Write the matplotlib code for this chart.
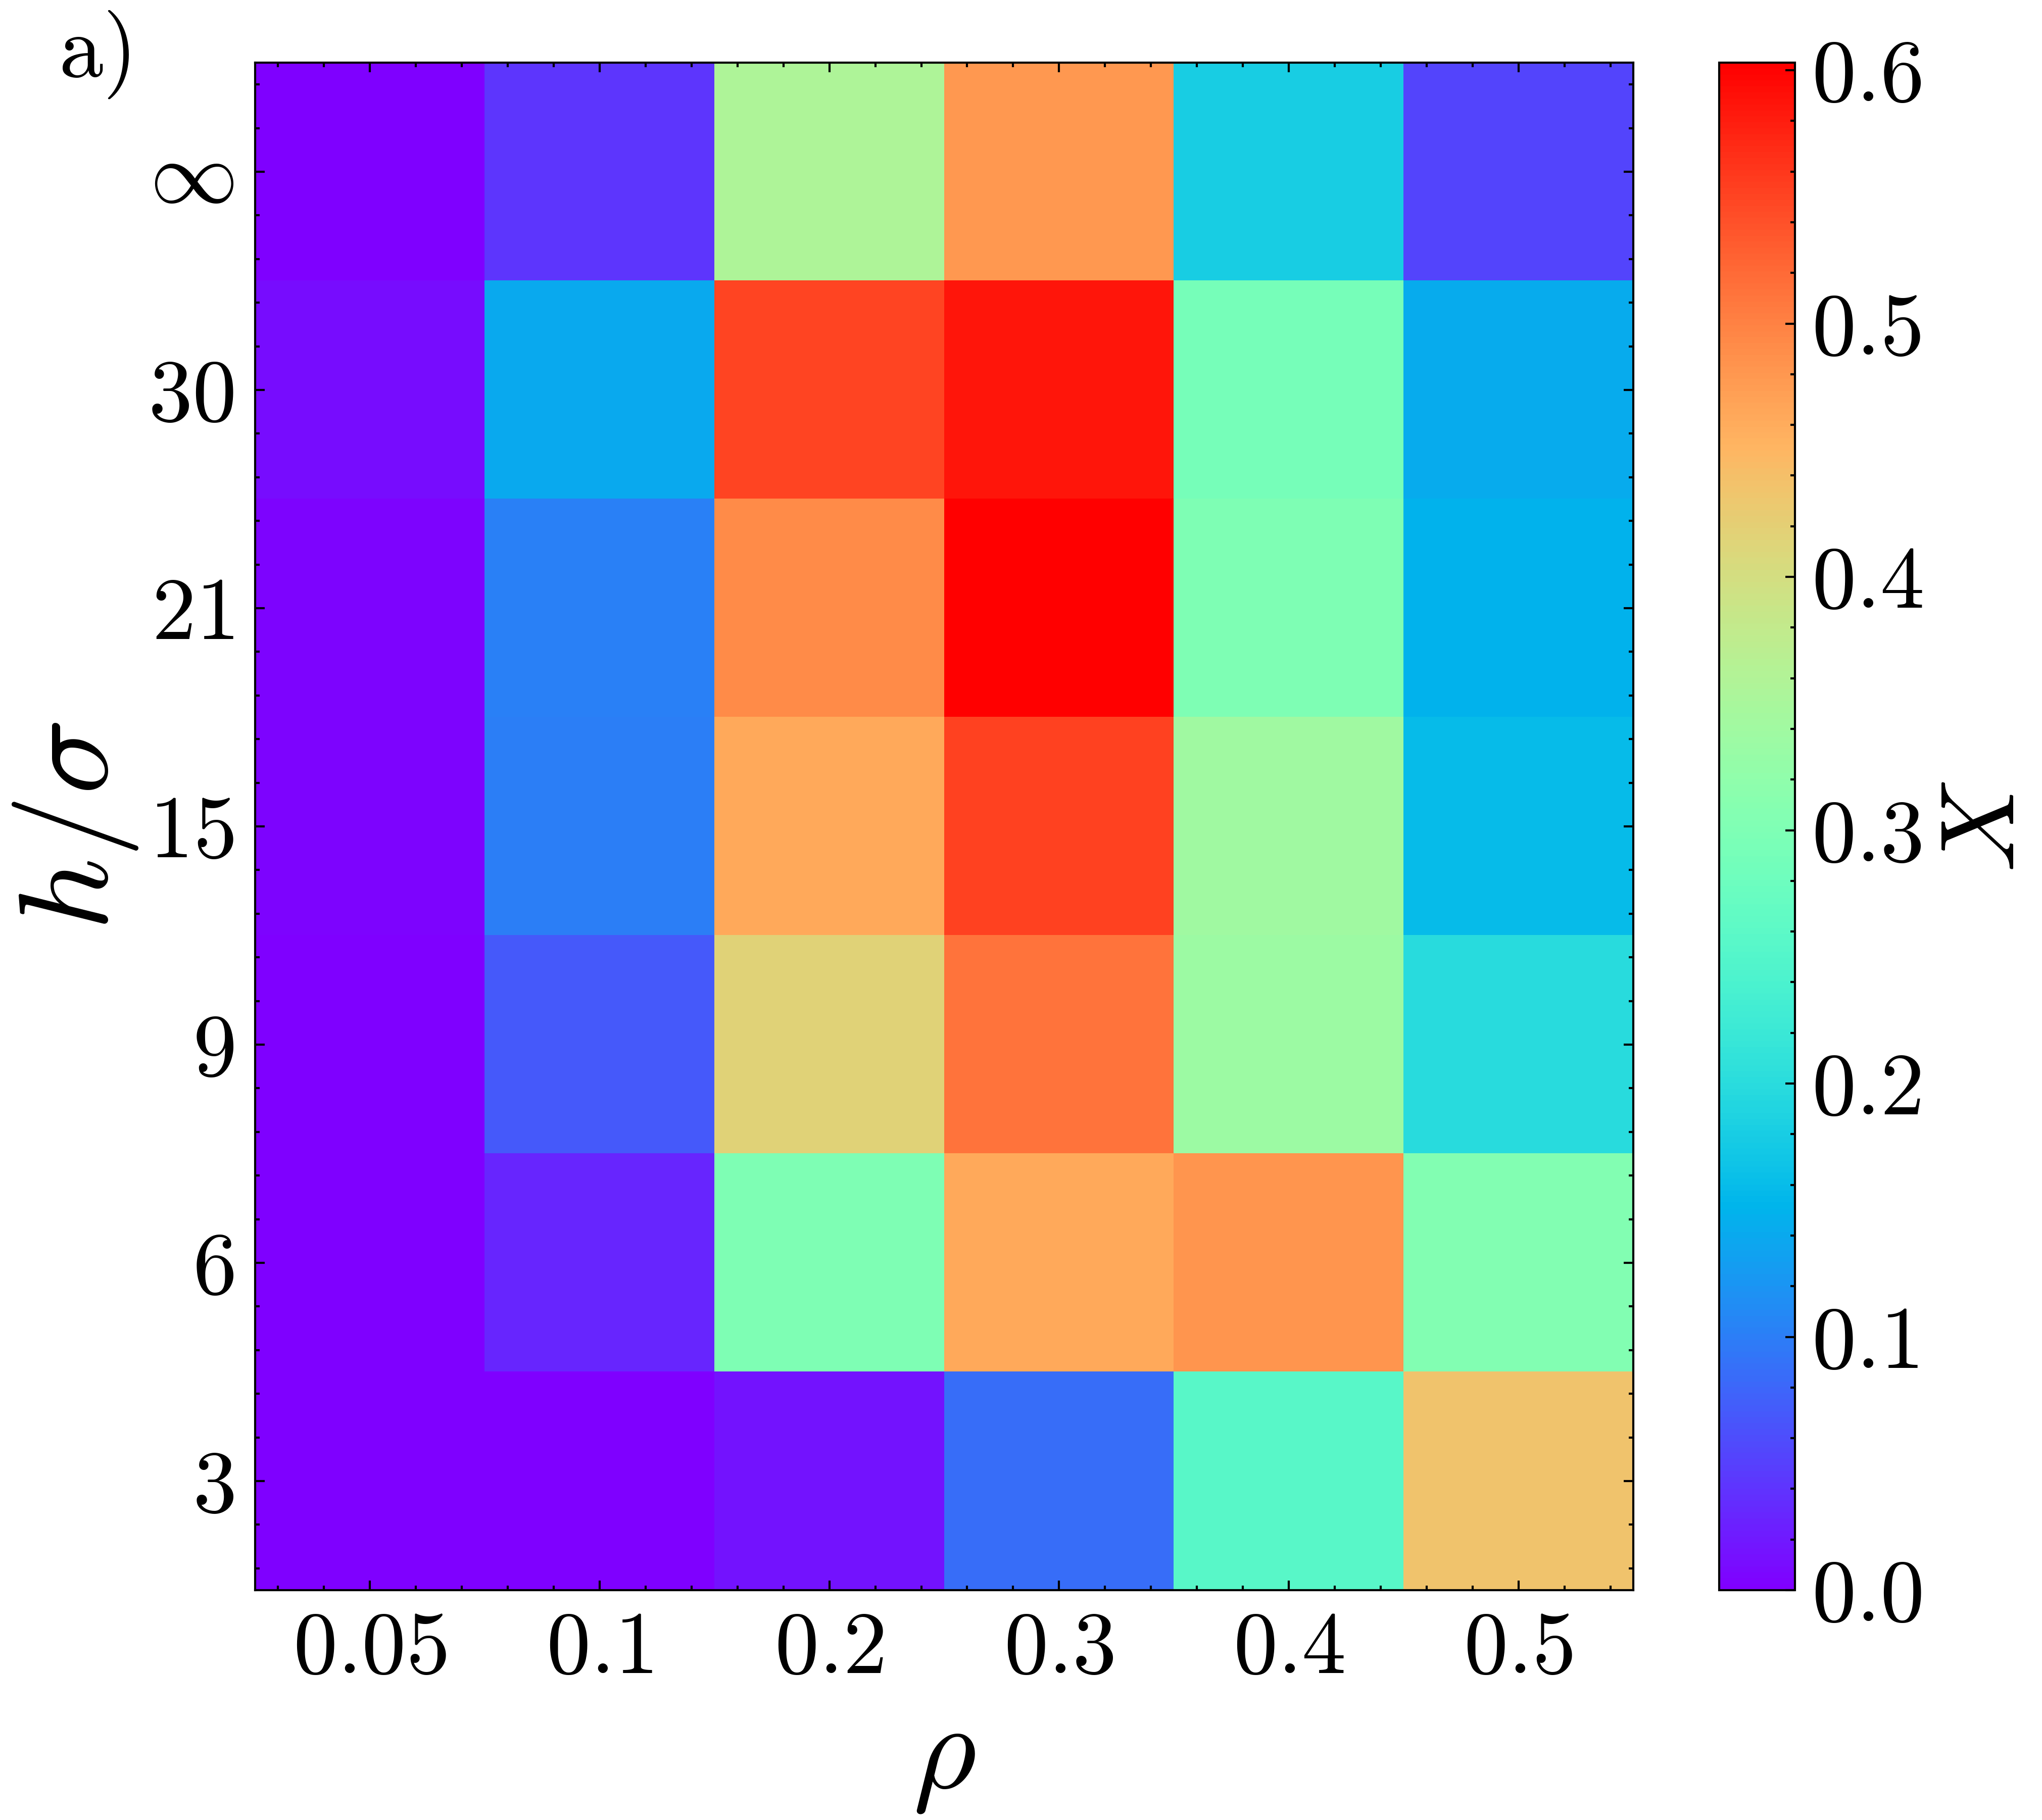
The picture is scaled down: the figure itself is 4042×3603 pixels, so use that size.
import matplotlib
matplotlib.use("Agg")
import matplotlib.pyplot as plt
import numpy as np
from matplotlib.ticker import AutoMinorLocator

plt.rcParams["mathtext.fontset"] = "cm"
plt.rcParams["font.family"] = "serif"
plt.rcParams["font.serif"] = ["cmr10", "DejaVu Serif"]
plt.rcParams["axes.formatter.use_mathtext"] = True

rho_labels = ["0.05", "0.1", "0.2", "0.3", "0.4", "0.5"]
h_labels = [r"\infty", "30", "21", "15", "9", "6", "3"]

# X values, rows from top (h = inf) to bottom (h = 3), columns rho
row_inf = [0.000, 0.042, 0.356, 0.479, 0.180, 0.052]
row_30 = [0.010, 0.139, 0.550, 0.585, 0.292, 0.142]
row_21 = [0.004, 0.103, 0.490, 0.603, 0.300, 0.150]
row_15 = [0.003, 0.100, 0.462, 0.552, 0.340, 0.160]
row_9 = [0.000, 0.069, 0.416, 0.513, 0.335, 0.199]
row_6 = [0.000, 0.030, 0.300, 0.464, 0.482, 0.305]
row_3 = [0.000, 0.000, 0.015, 0.087, 0.256, 0.434]

X = np.array([row_inf, row_30, row_21, row_15, row_9, row_6, row_3])

W, H, DPI = 4042, 3603, 300
fig = plt.figure(figsize=(W / DPI, H / DPI), dpi=DPI)
ax = fig.add_axes([505 / W, 1 - 3148 / H, (3233 - 505) / W, (3148 - 124) / H])
cax = fig.add_axes([3403 / W, 1 - 3148 / H, (3553 - 3403) / W, (3148 - 124) / H])

im = ax.imshow(X, cmap="rainbow", vmin=0, vmax=X.max(), aspect="auto", interpolation="nearest")

ax.set_xticks(range(len(rho_labels)))
ax.set_xticklabels([f"${s}$" for s in rho_labels])
ax.set_yticks(range(len(h_labels)))
ax.set_yticklabels([f"${s}$" for s in h_labels])
ax.xaxis.set_minor_locator(AutoMinorLocator(5))
ax.yaxis.set_minor_locator(AutoMinorLocator(5))
ax.tick_params(which="both", direction="in", top=True, right=True, labelsize=42, width=1.0)
ax.tick_params(which="major", length=4.5, pad=10)
ax.tick_params(which="minor", length=2.2)
for sp in ax.spines.values():
    sp.set_linewidth(1.0)

ax.set_xlabel(r"$\rho$", fontsize=58, labelpad=8)
ax.set_ylabel(r"$h/\sigma$", fontsize=60, labelpad=4)

cb = fig.colorbar(im, cax=cax)
cb.set_ticks([0.0, 0.1, 0.2, 0.3, 0.4, 0.5, 0.6])
cb.set_ticklabels([f"${v:.1f}$" for v in [0.0, 0.1, 0.2, 0.3, 0.4, 0.5, 0.6]])
cax.yaxis.set_minor_locator(AutoMinorLocator(5))
cax.tick_params(which="both", direction="in", labelsize=42, width=1.0)
cax.tick_params(which="major", length=4.5, pad=8)
cax.tick_params(which="minor", length=2.2)
cb.outline.set_linewidth(1.0)
cb.set_label(r"$X$", fontsize=50, labelpad=8)

fig.text(116 / W, 1 - 108 / H, r"$\mathrm{a)}$", fontsize=42, ha="left", va="center")

fig.savefig("out.png", dpi=DPI, facecolor="white")
